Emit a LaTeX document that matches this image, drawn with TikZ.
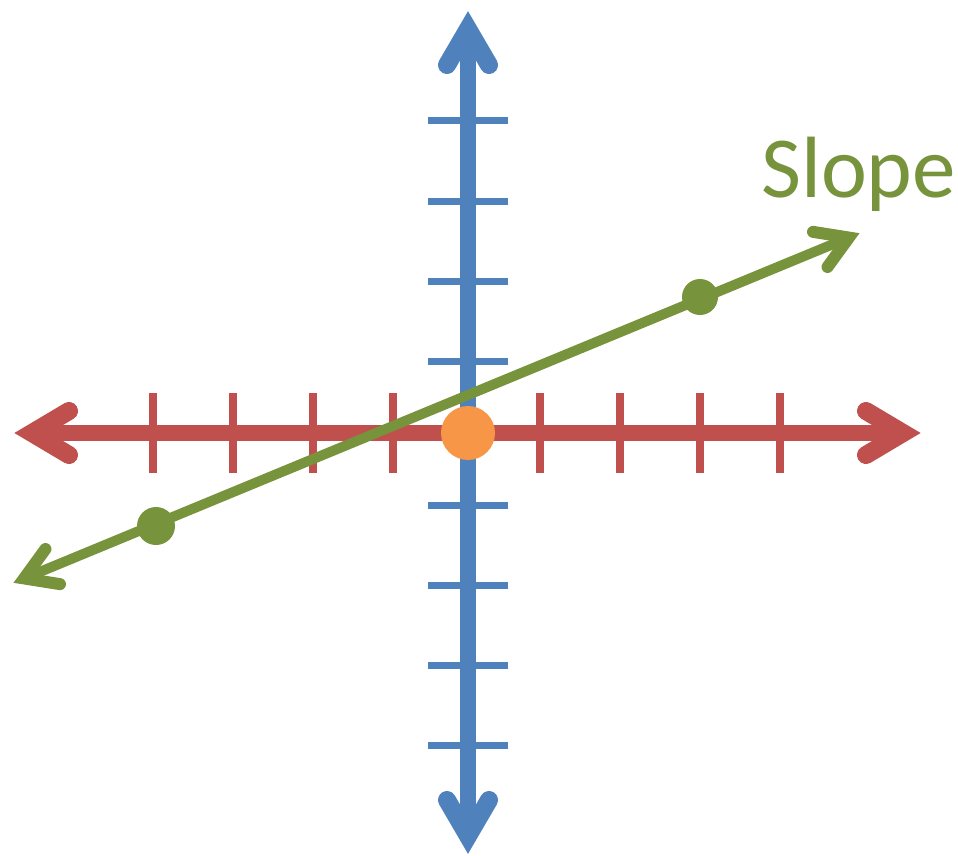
\documentclass[tikz,border=0pt]{standalone}
\usepackage{fontspec}
\setmainfont{Carlito}
\usetikzlibrary{calc}
\definecolor{axred}{HTML}{C0504D}
\definecolor{axblue}{HTML}{4F81BD}
\definecolor{lngreen}{HTML}{77933C}
\definecolor{ptorange}{HTML}{F79646}
\tikzset{
  redline/.style={draw=axred,line width=16pt},
  redbarb/.style={draw=axred,line width=18pt,line cap=round,line join=miter},
  redtick/.style={draw=axred,line width=8pt},
  blueline/.style={draw=axblue,line width=16pt},
  bluebarb/.style={draw=axblue,line width=18pt,line cap=round,line join=miter},
  bluetick/.style={draw=axblue,line width=7pt},
  greenline/.style={draw=lngreen,line width=10pt},
  greenbarb/.style={draw=lngreen,line width=12pt,line cap=round,line join=miter},
}
\begin{document}
\begin{tikzpicture}[x=1pt,y=-1pt]
\useasboundingbox (0,0) rectangle (958,856);
% red horizontal axis
\coordinate (rL) at (32,433);
\coordinate (rR) at (903,433);
\draw[redline] (rL) -- (rR);
\draw[redbarb] (69,411) -- (rL) -- (69,455);
\draw[redbarb] (866,411) -- (rR) -- (866,455);
\foreach \x in {153,233,313,393,540,620,700,780}
  \draw[redtick] (\x,393) -- (\x,473);
% blue vertical axis
\coordinate (bT) at (468,29);
\coordinate (bB) at (468,836);
\draw[blueline] (bT) -- (bB);
\draw[bluebarb] (447,65) -- (bT) -- (489,65);
\draw[bluebarb] (447,800) -- (bB) -- (489,800);
\foreach \y in {121,201,281,361,505,585,665,745}
  \draw[bluetick] (428,\y) -- (508,\y);
% green line
\coordinate (gA) at (13,583);
\coordinate (gB) at (860,233);
\coordinate (gAt) at ($(gA)!12pt!(gB)$);
\coordinate (gBt) at ($(gB)!12pt!(gA)$);
\draw[greenline] (gAt) -- (gBt);
\coordinate (qB) at ($(gB)!43pt!(gA)$);
\coordinate (qA) at ($(gA)!43pt!(gB)$);
\draw[greenbarb] ($(qB)!19pt!90:(gA)$) -- (gBt) -- ($(qB)!19pt!-90:(gA)$);
\draw[greenbarb] ($(qA)!19pt!90:(gB)$) -- (gAt) -- ($(qA)!19pt!-90:(gB)$);
\fill[lngreen] (156,526) circle (19pt);
\fill[lngreen] (700,297) circle (18pt);
% origin
\fill[ptorange] (468,433) circle (27pt);
% label
\node[anchor=base west,inner sep=0pt,text=lngreen,font=\fontsize{87}{92}\selectfont] (slope) at (761,197) {Slope};
\end{tikzpicture}
\end{document}
